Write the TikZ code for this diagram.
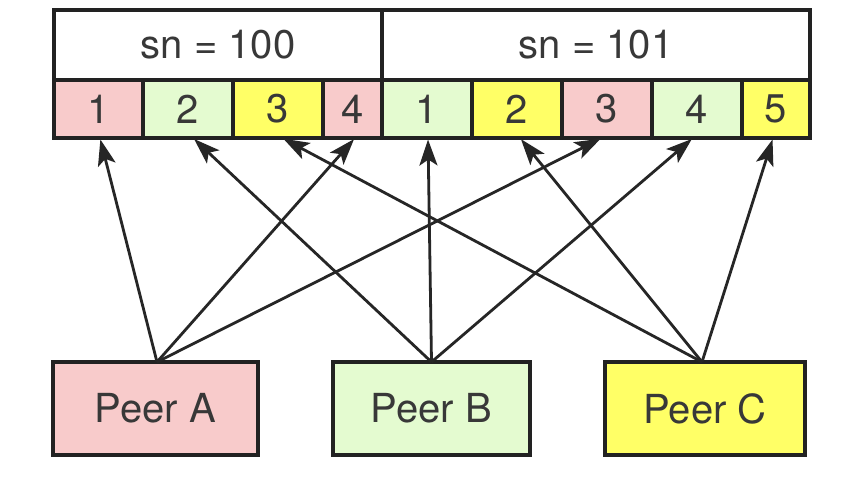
\documentclass[tikz,border=0pt]{standalone}
\usepackage{fontspec}
\setmainfont{TeX Gyre Heros}
\usetikzlibrary{arrows.meta}
\definecolor{pinkc}{HTML}{F8CBCB}
\definecolor{greenc}{HTML}{E4FBD0}
\definecolor{yellowc}{HTML}{FFFF66}
\definecolor{linec}{HTML}{222222}
\definecolor{textc}{HTML}{383838}
\definecolor{arrc}{HTML}{262626}
\begin{document}
\begin{tikzpicture}[x=1pt,y=-1pt,
  box/.style={draw=linec, line width=3.2pt, inner sep=0pt, outer sep=0pt,
    text=textc, font=\fontsize{40}{40}\selectfont},
  hdr/.style={box, fill=white, minimum height=70pt},
  cell/.style={box, minimum height=58pt},
  peer/.style={box, minimum height=93pt},
  arr/.style={draw=arrc, line width=2.8pt,
    -{Stealth[length=26pt, width=18pt, inset=6pt]}, shorten >=1.5pt}]
\useasboundingbox (0,0) rectangle (848,487);
\fill[white] (0,0) rectangle (848,487);
% headers
\node[hdr, minimum width=328pt] (h100) at (218,45) {sn = 100};
\node[hdr, minimum width=428pt] (h101) at (596,45) {sn = 101};
% sn=100 cells
\node[cell, fill=pinkc,   minimum width=89pt] (a1) at (98.5,109) {1};
\node[cell, fill=greenc,  minimum width=90pt] (a2) at (188,109) {2};
\node[cell, fill=yellowc, minimum width=90pt] (a3) at (278,109) {3};
\node[cell, fill=pinkc,   minimum width=59pt] (a4) at (352.5,109) {4};
% sn=101 cells
\node[cell, fill=greenc,  minimum width=90pt] (b1) at (427,109) {1};
\node[cell, fill=yellowc, minimum width=90pt] (b2) at (517,109) {2};
\node[cell, fill=pinkc,   minimum width=90pt] (b3) at (607,109) {3};
\node[cell, fill=greenc,  minimum width=90pt] (b4) at (697,109) {4};
\node[cell, fill=yellowc, minimum width=68pt] (b5) at (776,109) {5};
% peers
\node[peer, fill=pinkc,   minimum width=205pt] (pA) at (155.5,408.5) {Peer A};
\node[peer, fill=greenc,  minimum width=197pt] (pB) at (431.5,408.5) {Peer B};
\node[peer, fill=yellowc, minimum width=200pt] (pC) at (705,408.5) {Peer C};
% arrows
\draw[arr] ([xshift=1.5pt]pA.north) -- ([xshift=1.5pt]a1.south);
\draw[arr] ([xshift=1.5pt]pA.north) -- ([xshift=2.5pt]a4.south);
\draw[arr] ([xshift=1.5pt]pA.north) -- ([xshift=-5pt]b3.south);
\draw[arr] (pB.north) -- ([xshift=5pt]a2.south);
\draw[arr] (pB.north) -- ([xshift=1pt]b1.south);
\draw[arr] (pB.north) -- ([xshift=-4pt]b4.south);
\draw[arr] ([xshift=-3pt]pC.north) -- ([xshift=4pt]a3.south);
\draw[arr] ([xshift=-3pt]pC.north) -- ([xshift=3pt]b2.south);
\draw[arr] ([xshift=-3pt]pC.north) -- ([xshift=-3pt]b5.south);
\end{tikzpicture}
\end{document}
